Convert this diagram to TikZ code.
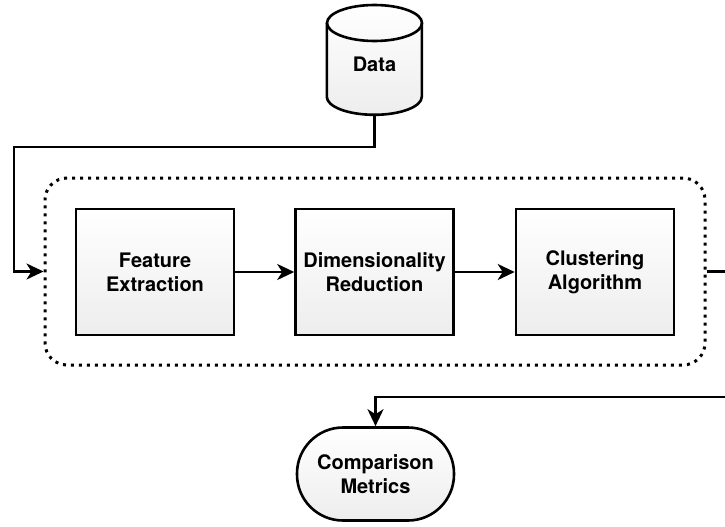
\documentclass[tikz,border=0pt]{standalone}
\usepackage{fontspec}
\setmainfont{TeX Gyre Heros}
\usetikzlibrary{arrows.meta}

\tikzset{
  stage/.style={draw, line width=2.6pt, top color=white, bottom color=gray!14,
    minimum width=158pt, minimum height=126pt, align=center,
    font=\fontsize{20}{24}\selectfont\bfseries},
  terminal/.style={stage, rounded corners=46pt, minimum width=157pt, minimum height=93pt},
  flow/.style={->, line width=2.6pt}
}

\begin{document}
\begin{tikzpicture}[x=1pt, y=-1pt, >={Stealth[length=17pt, width=16pt, inset=5pt]}]
  \useasboundingbox (0,0) rectangle (725,527);
  \clip (0,0) rectangle (725,527);
  % data store
  \node[minimum width=95pt, minimum height=110pt, inner sep=0pt] (data) at (374.5,60) {};
  \shade[top color=white, bottom color=gray!14]
    (data.north west) ++(0,18) -- ++(0,74) arc[start angle=180, end angle=360, x radius=47.5, y radius=-18]
    -- ++(0,-74) arc[start angle=0, end angle=180, x radius=47.5, y radius=-18];
  \draw[line width=2.6pt]
    (data.north west) ++(0,18) -- ++(0,74) arc[start angle=180, end angle=360, x radius=47.5, y radius=-18]
    -- ++(0,-74);
  \draw[line width=2.6pt] (374.5,23) ellipse[x radius=47.5, y radius=18];
  \node[font=\fontsize{20}{24}\selectfont\bfseries] (datalabel) at (374.5,64) {Data};

  % pipeline group
  \node[draw, line width=3pt, dash pattern=on 3pt off 5pt, rounded corners=22pt,
        minimum width=660pt, minimum height=187pt] (pipeline) at (375,271.5) {};
  \node[stage] (feat) at (155,272) {Feature\\Extraction};
  \node[stage] (dimred) at (374.5,272) {Dimensionality\\Reduction};
  \node[stage] (clust) at (595,272) {Clustering\\Algorithm};

  \node[terminal] (metrics) at (375.5,474) {Comparison\\Metrics};

  \coordinate (loop) at (14,147);
  \coordinate (bend) at (745,397);

  \draw[flow] (data.south) |- (loop) |- (pipeline.west);
  \draw[flow] (feat) -- (dimred);
  \draw[flow] (dimred) -- (clust);
  \draw[flow] (pipeline.east) -| (bend) -| (metrics.north);
\end{tikzpicture}
\end{document}
